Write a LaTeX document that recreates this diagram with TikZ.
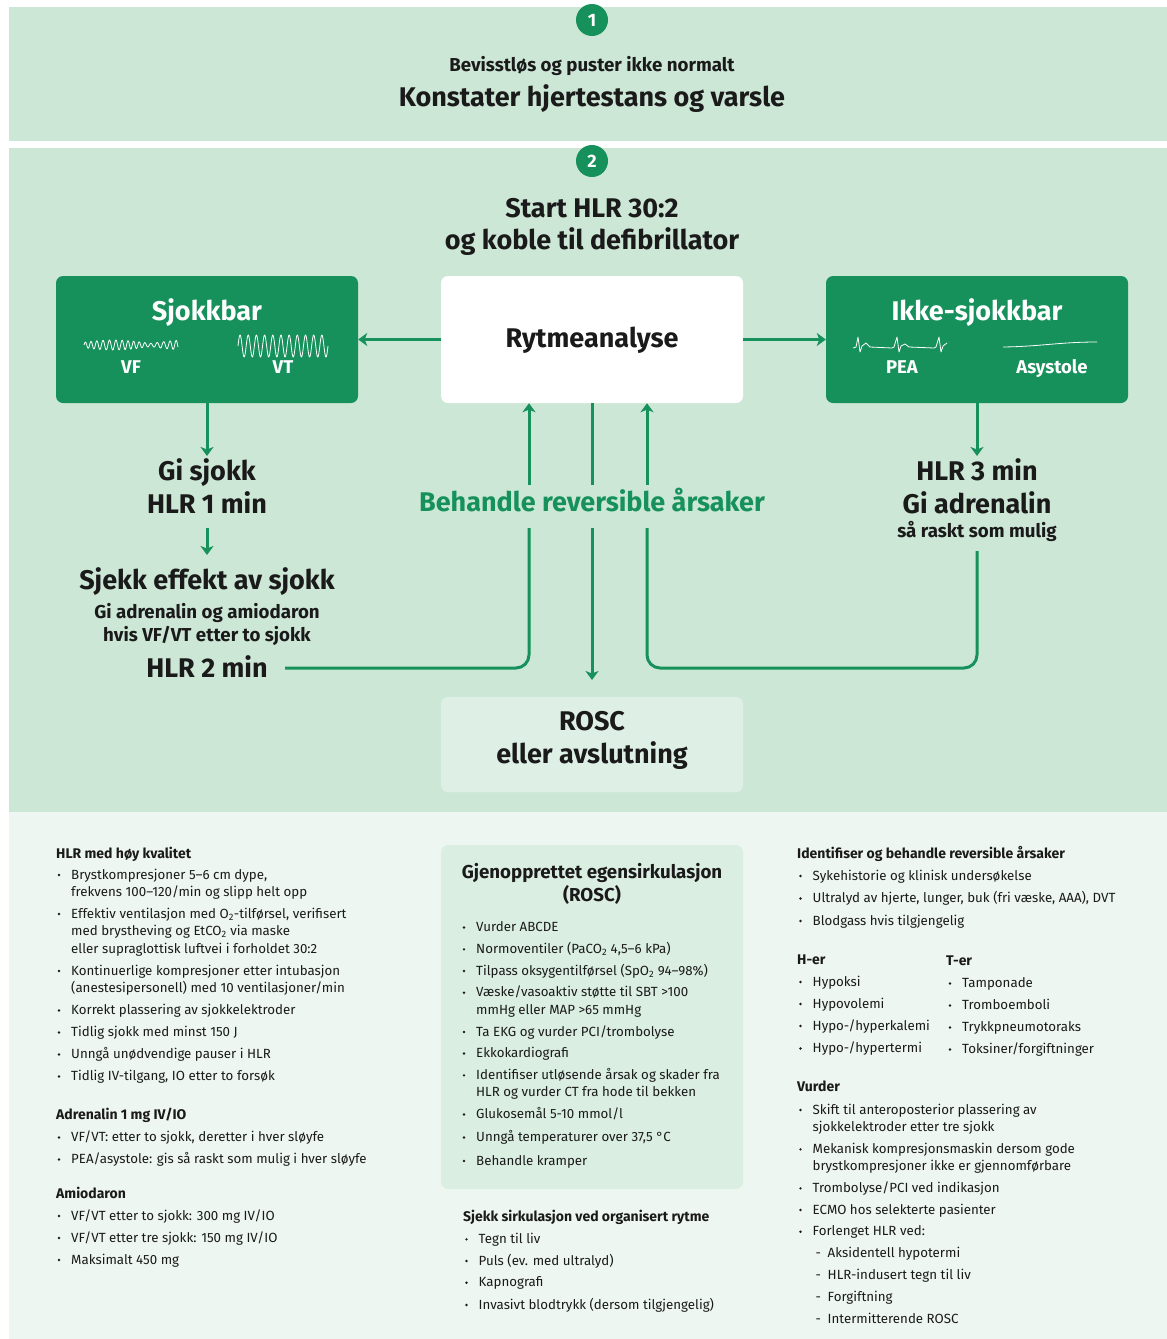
\documentclass[tikz,border=0pt]{standalone}
\usepackage{fontspec}
\setmainfont{Fira Sans}
\IfFontExistsTF{FiraSans-SemiBold.otf}{%
  \newfontfamily\sbf{FiraSans-SemiBold.otf}}{%
  \newfontfamily\sbf{Fira Sans}[UprightFont={* Bold}]}
\usetikzlibrary{arrows.meta}
\definecolor{secgreen}{HTML}{CDE7D6}
\definecolor{dkgreen}{HTML}{16915B}
\definecolor{paleg}{HTML}{EEF6F1}
\definecolor{roscbg}{HTML}{DEF0E5}
\definecolor{roscbox}{HTML}{DBEEE2}
\definecolor{ink}{HTML}{1A1A1A}
\newcommand\Bhd[3]{\node[bhd] at (#1,#2) {#3};}
\newcommand\Bit[3]{\fill[ink] (#1-12,#2-4) circle (1.3pt); \node[btx] at (#1,#2) {#3};}
\newcommand\Bln[3]{\node[btx] at (#1,#2) {#3};}
\newcommand\Bdsh[3]{\node[btx] at (#1-12,#2) {-}; \node[btx] at (#1,#2) {#3};}
\begin{document}
\begin{tikzpicture}[x=1pt,y=-1pt,
  ttl/.style={font=\sbf\fontsize{27}{32}\selectfont, text=ink, inner sep=0pt, anchor=base},
  sub/.style={font=\sbf\fontsize{18.7}{22}\selectfont, text=ink, inner sep=0pt, anchor=base},
  wttl/.style={ttl, text=white},
  wlab/.style={font=\sbf\fontsize{18.5}{22}\selectfont, text=white, inner sep=0pt, anchor=base},
  gbox/.style={fill=dkgreen, rounded corners=7pt, minimum width=302pt, minimum height=127pt, inner sep=0pt},
  wbox/.style={fill=white, rounded corners=7pt, minimum width=302pt, minimum height=127pt, inner sep=0pt},
  num/.style={circle, fill=dkgreen, minimum size=32pt, inner sep=0pt, text=white, font=\sbf\fontsize{18}{20}\selectfont},
  ln/.style={draw=dkgreen, line width=3pt, rounded corners=13pt},
  arr/.style={draw=dkgreen, line width=3pt, -{Stealth[length=9pt,width=13pt,inset=2.5pt]}},
  wave/.style={draw=white, line width=0.8pt, line join=round},
  bhd/.style={font=\sbf\fontsize{14}{16}\selectfont, text=ink, inner sep=0pt, anchor=base west},
  btx/.style={font=\fontsize{13.3}{16}\selectfont, text=ink, inner sep=0pt, anchor=base west},
  rtl/.style={font=\sbf\fontsize{18.7}{22}\selectfont, text=ink, inner sep=0pt, anchor=base}]
\useasboundingbox (0,0) rectangle (1167,1339);
\fill[white] (0,0) rectangle (1167,1339);
\fill[secgreen] (9,7) rectangle (1167,141);
\fill[secgreen] (9,148) rectangle (1167,812);
\fill[paleg] (9,812) rectangle (1167,1339);
% section 1
\node[num] (n1) at (592,20) {1};
\node[sub] (t1a) at (592,71) {Bevisstløs og puster ikke normalt};
\node[ttl] (t1b) at (592,106) {Konstater hjertestans og varsle};
% section 2
\node[num] (n2) at (592,161) {2};
\node[ttl] (t2a) at (592,217) {Start HLR 30:2};
\node[ttl] (t2b) at (592,249) {og koble til defibrillator};
\node[gbox] (sjokk) at (207,339.5) {};
\node[wbox] (ryt) at (592,339.5) {};
\node[gbox] (ikke) at (977,339.5) {};
\node[wttl] (sjt) at (207,320) {Sjokkbar};
\node[ttl] (rytt) at (592,347) {Rytmeanalyse};
\node[wttl] (ikt) at (977,320) {Ikke-sjokkbar};
\node[wlab] (vf) at (131,373) {VF};
\node[wlab] (vt) at (283,373) {VT};
\node[wlab] (pea) at (902,373) {PEA};
\node[wlab] (asy) at (1052,373) {Asystole};
% waveforms
\draw[wave] plot[domain=0:94, samples=300, smooth] ({84+\x},{345-(1.6+3.4*abs(sin(\x*2.4+20)))*sin(\x*60+40*sin(\x*7))});
\draw[wave] plot[domain=0:90, samples=300] ({238+\x},{346-11*sin(\x*44)});
\draw[wave] (853,348) -- (856,347) -- (858,337) -- (860,352) -- (862,346) -- (866,343) -- (870,347) -- (892,348) -- (894,347) -- (897,337) -- (899,352) -- (901,346) -- (905,344) -- (909,347) -- (934,348) -- (936,347) -- (939,337) -- (941,352) -- (943,346) -- (947,343);
\draw[wave] (1003,347) .. controls (1040,346.5) and (1060,342) .. (1097,342);
% arrows from analysis
\draw[arr] (ryt.west) -- (sjokk.east);
\draw[arr] (ryt.east) -- (ikke.west);
% left branch
\coordinate (a1) at (207,456);
\draw[arr] (sjokk.south) -- (a1);
\node[ttl] (gis) at (207,480) {Gi sjokk};
\node[ttl] (hlr1) at (207,513) {HLR 1 min};
\coordinate (a2s) at (207,528);
\coordinate (a2e) at (207,555);
\draw[arr] (a2s) -- (a2e);
\node[ttl] (sje) at (207,589) {Sjekk effekt av sjokk};
\node[sub] (gia) at (207,618) {Gi adrenalin og amiodaron};
\node[sub] (hvis) at (207,641) {hvis VF/VT etter to sjokk};
\node[ttl] (hlr2) at (207,677) {HLR 2 min};
% right branch
\coordinate (a3) at (977,456);
\draw[arr] (ikke.south) -- (a3);
\node[ttl] (hlr3) at (977,480) {HLR 3 min};
\node[ttl] (gad) at (977,513) {Gi adrenalin};
\node[sub] (sra) at (977,537) {så raskt som mulig};
% centre
\node[ttl, text=dkgreen] (beh) at (592,511) {Behandle reversible årsaker};
\coordinate (lupb) at (529,485);
\coordinate (rupb) at (647,485);
\coordinate (mtop) at (592,485);
\coordinate (mbot) at (592,528);
\coordinate (marr) at (592,680);
\draw[ln] (285,668) -- (529,668) -- (529,528);
\draw[arr] (lupb) -- (lupb |- ryt.south);
\draw[ln] (ryt.south) -- (mtop);
\draw[arr] (mbot) -- (marr);
\draw[ln] (977,551) -- (977,668) -- (647,668) -- (647,528);
\draw[arr] (rupb) -- (rupb |- ryt.south);
% ROSC
\node[fill=roscbg, rounded corners=7pt, minimum width=302pt, minimum height=95pt, inner sep=0pt] (rosc) at (592,744.5) {};
\node[ttl] (rosct) at (592,730) {ROSC};
\node[ttl] (roscb) at (592,763) {eller avslutning};
% ---- bottom column 1
\Bhd{56}{858}{HLR med høy kvalitet}
\Bit{71}{879}{Brystkompresjoner 5–6 cm dype,}
\Bln{71}{896.5}{frekvens 100–120/min og slipp helt opp}
\Bit{71}{918}{Effektiv ventilasjon med O\textsubscript{2}-tilførsel, verifisert}
\Bln{71}{935.5}{med brystheving og EtCO\textsubscript{2} via maske}
\Bln{71}{953}{eller supraglottisk luftvei i forholdet 30:2}
\Bit{71}{975}{Kontinuerlige kompresjoner etter intubasjon}
\Bln{71}{992}{(anestesipersonell) med 10 ventilasjoner/min}
\Bit{71}{1014.5}{Korrekt plassering av sjokkelektroder}
\Bit{71}{1036.5}{Tidlig sjokk med minst 150 J}
\Bit{71}{1058.5}{Unngå unødvendige pauser i HLR}
\Bit{71}{1080.5}{Tidlig IV-tilgang, IO etter to forsøk}
\Bhd{56}{1119}{Adrenalin 1 mg IV/IO}
\Bit{71}{1141.5}{VF/VT: etter to sjokk, deretter i hver sløyfe}
\Bit{71}{1163.5}{PEA/asystole: gis så raskt som mulig i hver sløyfe}
\Bhd{56}{1198}{Amiodaron}
\Bit{71}{1220}{VF/VT etter to sjokk: 300 mg IV/IO}
\Bit{71}{1242}{VF/VT etter tre sjokk: 150 mg IV/IO}
\Bit{71}{1264}{Maksimalt 450 mg}
% ---- bottom column 2
\node[fill=roscbox, rounded corners=7pt, minimum width=302pt, minimum height=344pt, inner sep=0pt] (rinfo) at (592,1017) {};
\node[rtl] (rit1) at (592,878) {Gjenopprettet egensirkulasjon};
\node[rtl] (rit2) at (592,901.5) {(ROSC)};
\Bit{476}{931.5}{Vurder ABCDE}
\Bit{476}{953.3}{Normoventiler (PaCO\textsubscript{2} 4,5–6 kPa)}
\Bit{476}{975}{Tilpass oksygentilførsel (SpO\textsubscript{2} 94–98\%)}
\Bit{476}{996.7}{Væske/vasoaktiv støtte til SBT >100}
\Bln{476}{1014.3}{mmHg eller MAP >65 mmHg}
\Bit{476}{1036}{Ta EKG og vurder PCI/trombolyse}
\Bit{476}{1057.5}{Ekkokardiografi}
\Bit{476}{1079.3}{Identifiser utløsende årsak og skader fra}
\Bln{476}{1096.7}{HLR og vurder CT fra hode til bekken}
\Bit{476}{1118.5}{Glukosemål 5-10 mmol/l}
\Bit{476}{1141.5}{Unngå temperaturer over 37,5 °C}
\Bit{476}{1165}{Behandle kramper}
\Bhd{463}{1221.5}{Sjekk sirkulasjon ved organisert rytme}
\Bit{478.5}{1243.3}{Tegn til liv}
\Bit{478.5}{1265}{Puls (ev. med ultralyd)}
\Bit{478.5}{1286.7}{Kapnografi}
\Bit{478.5}{1309}{Invasivt blodtrykk (dersom tilgjengelig)}
% ---- bottom column 3
\Bhd{797}{858.3}{Identifiser og behandle reversible årsaker}
\Bit{812.5}{880}{Sykehistorie og klinisk undersøkelse}
\Bit{812.5}{902.5}{Ultralyd av hjerte, lunger, buk (fri væske, AAA), DVT}
\Bit{812.5}{925}{Blodgass hvis tilgjengelig}
\Bhd{797}{964}{H-er}
\Bhd{946}{965}{T-er}
\Bit{812.5}{986}{Hypoksi}
\Bit{812.5}{1008}{Hypovolemi}
\Bit{812.5}{1030}{Hypo-/hyperkalemi}
\Bit{812.5}{1052.5}{Hypo-/hypertermi}
\Bit{962}{987.5}{Tamponade}
\Bit{962}{1009.5}{Tromboemboli}
\Bit{962}{1031.5}{Trykkpneumotoraks}
\Bit{962}{1053.5}{Toksiner/forgiftninger}
\Bhd{797}{1091.7}{Vurder}
\Bit{812.5}{1114}{Skift til anteroposterior plassering av}
\Bln{812.5}{1131.5}{sjokkelektroder etter tre sjokk}
\Bit{812.5}{1153.3}{Mekanisk kompresjonsmaskin dersom gode}
\Bln{812.5}{1170.7}{brystkompresjoner ikke er gjennomførbare}
\Bit{812.5}{1192.3}{Trombolyse/PCI ved indikasjon}
\Bit{812.5}{1214}{ECMO hos selekterte pasienter}
\Bit{812.5}{1235.7}{Forlenget HLR ved:}
\Bdsh{827.5}{1257.7}{Aksidentell hypotermi}
\Bdsh{827.5}{1279.3}{HLR-indusert tegn til liv}
\Bdsh{827.5}{1301.7}{Forgiftning}
\Bdsh{827.5}{1323.3}{Intermitterende ROSC}
\end{tikzpicture}
\end{document}
